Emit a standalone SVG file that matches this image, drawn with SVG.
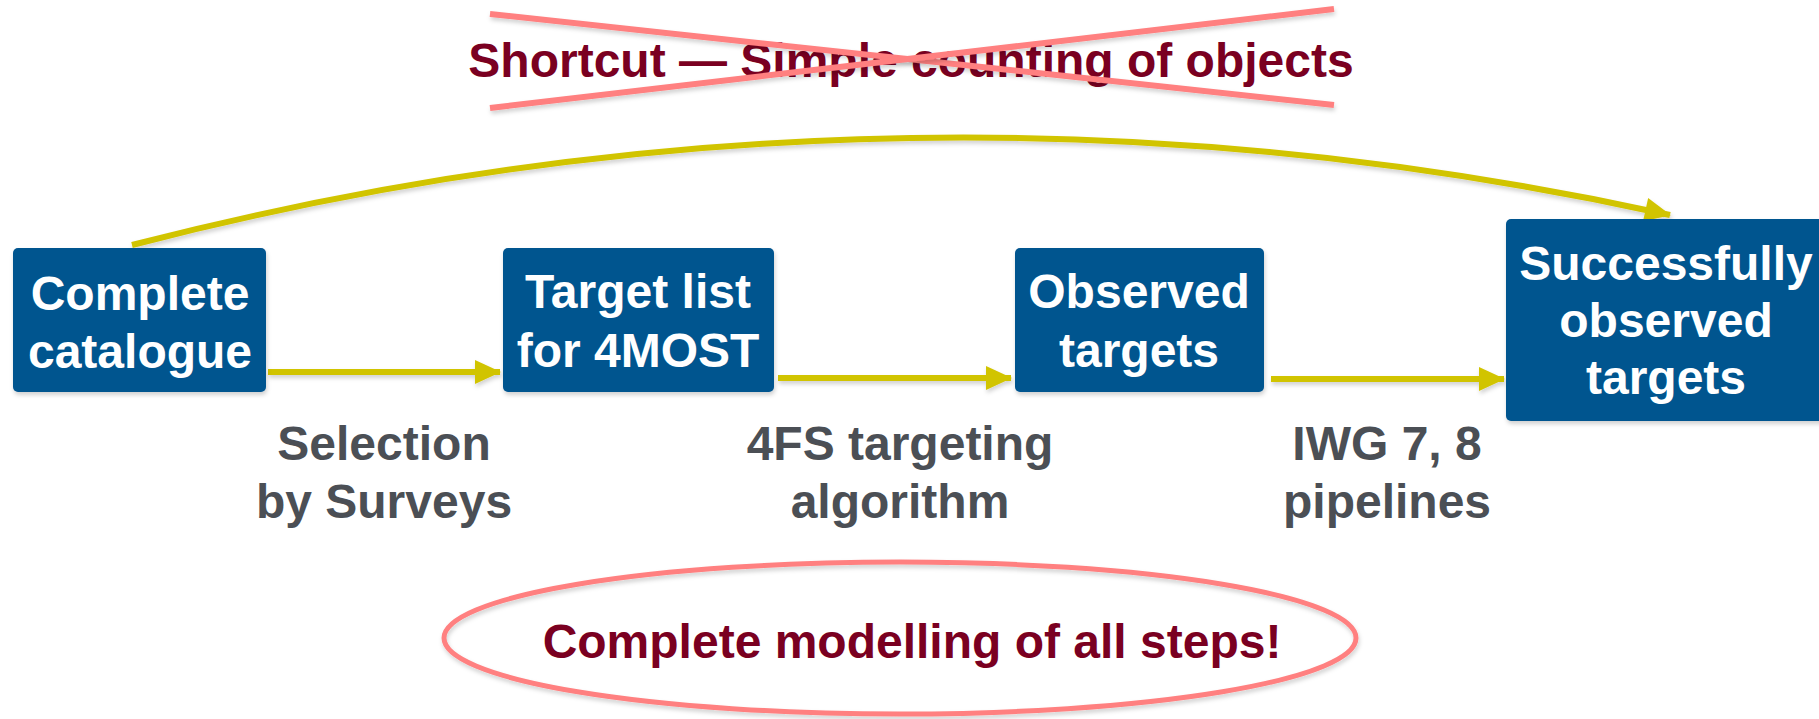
<svg xmlns="http://www.w3.org/2000/svg" width="1819" height="719" viewBox="0 0 1819 719">
<style>
  .box { fill: #02548F; filter: url(#sh); }
  .bt { font-family: "Liberation Sans", Arial, sans-serif; font-weight: bold; font-size: 48px; fill: #FFFFFF; text-anchor: middle; }
  .lbl { font-family: "Liberation Sans", Arial, sans-serif; font-weight: bold; font-size: 48px; fill: #4B4F55; text-anchor: middle; }
  .red { font-family: "Liberation Sans", Arial, sans-serif; font-weight: bold; font-size: 48px; fill: #7A0021; text-anchor: middle; }
  .arr { fill: none; stroke: #D1C400; stroke-width: 6; marker-end: url(#ah); filter: url(#sh); }
  .cross { stroke: #FF8080; stroke-width: 6; filter: url(#sh); }
</style>
<defs>
  <filter id="sh" filterUnits="userSpaceOnUse" x="0" y="0" width="1819" height="719">
    <feDropShadow dx="1" dy="3" stdDeviation="2" flood-color="#000" flood-opacity="0.18"/>
  </filter>
  <marker id="ah" markerUnits="userSpaceOnUse" markerWidth="30" markerHeight="30" viewBox="0 0 30 30" refX="27" refY="15" orient="auto">
    <path d="M2,3 L28,15 L2,27 Z" fill="#D1C400"/>
  </marker>
</defs>
<rect width="1819" height="719" fill="#FFFFFF"/>

<g id="title">
  <text class="red" x="911" y="77">Shortcut — Simple counting of objects</text>
  <line class="cross" x1="490" y1="14" x2="1334" y2="105"/>
  <line class="cross" x1="490" y1="108" x2="1334" y2="9"/>
</g>

<g id="connectors">
  <path class="arr" d="M132,245 Q900,46 1670,215"/>
  <line class="arr" x1="268" y1="372" x2="500" y2="372"/>
  <line class="arr" x1="778" y1="378" x2="1011" y2="378"/>
  <line class="arr" x1="1271" y1="379" x2="1504" y2="379"/>
</g>

<g id="n1">
  <rect class="box" x="13" y="248" width="253" height="144" rx="5"/>
  <text class="bt" x="140" y="310">Complete</text>
  <text class="bt" x="140" y="368">catalogue</text>
</g>
<g id="n2">
  <rect class="box" x="503" y="248" width="271" height="144" rx="5"/>
  <text class="bt" x="638" y="308">Target list</text>
  <text class="bt" x="638" y="367">for 4MOST</text>
</g>
<g id="n3">
  <rect class="box" x="1015" y="248" width="249" height="144" rx="5"/>
  <text class="bt" x="1139" y="308">Observed</text>
  <text class="bt" x="1139" y="367">targets</text>
</g>
<g id="n4">
  <rect class="box" x="1506" y="219" width="330" height="202" rx="5"/>
  <text class="bt" x="1666" y="280">Successfully</text>
  <text class="bt" x="1666" y="337">observed</text>
  <text class="bt" x="1666" y="394">targets</text>
</g>

<g id="labels">
  <text class="lbl" x="384" y="460">Selection</text>
  <text class="lbl" x="384" y="518">by Surveys</text>
  <text class="lbl" x="900" y="460">4FS targeting</text>
  <text class="lbl" x="900" y="518">algorithm</text>
  <text class="lbl" x="1387" y="460">IWG 7, 8</text>
  <text class="lbl" x="1387" y="518">pipelines</text>
</g>

<g id="bottom">
  <ellipse cx="900" cy="638" rx="456" ry="76" fill="none" stroke="#FF8080" stroke-width="5" filter="url(#sh)"/>
  <text class="red" x="912" y="658">Complete modelling of all steps!</text>
</g>
</svg>
